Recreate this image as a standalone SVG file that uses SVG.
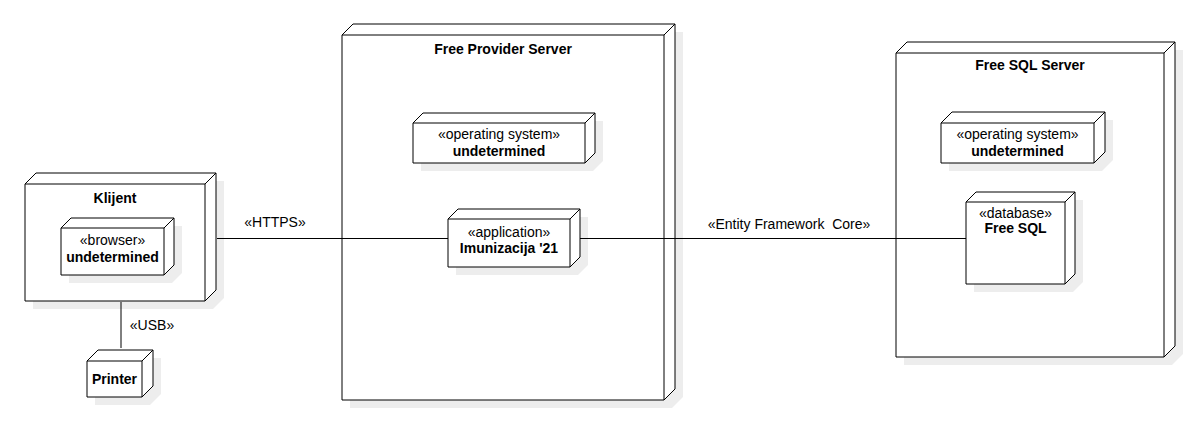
<svg xmlns="http://www.w3.org/2000/svg" width="1198" height="426" viewBox="0 0 1198 426">
<style>
.sh{fill:#ededed;stroke:none}
.bx{fill:#fff;stroke:#000;stroke-width:1}
.ed{fill:none;stroke:#000;stroke-width:1}
.cn{fill:none;stroke:#000;stroke-width:1}
text{font-family:"Liberation Sans",Arial,Helvetica,sans-serif;font-size:14px;fill:#000;text-anchor:middle}
.b{font-weight:bold}
</style>
<rect width="1198" height="426" fill="#fff"/>
<g id="klijent">
<path class="sh" d="M33,192 L44,181 L224,181 L224,298 L213,309 L33,309 Z"/>
<path class="bx" d="M25,184 L36,173 L216,173 L216,290 L205,301 L25,301 Z"/>
<path class="ed" d="M25,184 H205 L216,173 M205,184 V301"/>
<text class="b" x="115" y="203">Klijent</text>
</g>
<g id="browser">
<path class="sh" d="M69,236 L79,226 L182,226 L182,273 L172,283 L69,283 Z"/>
<path class="bx" d="M61,228 L71,218 L174,218 L174,265 L164,275 L61,275 Z"/>
<path class="ed" d="M61,228 H164 L174,218 M164,228 V275"/>
<text x="112.5" y="245">«browser»</text>
<text class="b" x="112.5" y="262">undetermined</text>
</g>
<g id="provider">
<path class="sh" d="M350,43 L361,32 L683,32 L683,397 L672,408 L350,408 Z"/>
<path class="bx" d="M342,35 L353,24 L675,24 L675,389 L664,400 L342,400 Z"/>
<path class="ed" d="M342,35 H664 L675,24 M664,35 V400"/>
<text class="b" x="503" y="54">Free Provider Server</text>
</g>
<g id="os1">
<path class="sh" d="M421,131 L431,121 L603,121 L603,161 L593,171 L421,171 Z"/>
<path class="bx" d="M413,123 L423,113 L595,113 L595,153 L585,163 L413,163 Z"/>
<path class="ed" d="M413,123 H585 L595,113 M585,123 V163"/>
<text x="499" y="139">«operating system»</text>
<text class="b" x="499" y="156">undetermined</text>
</g>
<g id="app">
<path class="sh" d="M456,227 L466,217 L588,217 L588,265 L578,275 L456,275 Z"/>
<path class="bx" d="M448,219 L458,209 L580,209 L580,257 L570,267 L448,267 Z"/>
<path class="ed" d="M448,219 H570 L580,209 M570,219 V267"/>
<text x="509" y="237">«application»</text>
<text class="b" x="509" y="253">Imunizacija '21</text>
</g>
<g id="sqlserver">
<path class="sh" d="M904,61 L915,50 L1183,50 L1183,354 L1172,365 L904,365 Z"/>
<path class="bx" d="M896,53 L907,42 L1175,42 L1175,346 L1164,357 L896,357 Z"/>
<path class="ed" d="M896,53 H1164 L1175,42 M1164,53 V357"/>
<text class="b" x="1030" y="70">Free SQL Server</text>
</g>
<g id="os2">
<path class="sh" d="M949,131 L960,120 L1113,120 L1113,160 L1102,171 L949,171 Z"/>
<path class="bx" d="M941,123 L952,112 L1105,112 L1105,152 L1094,163 L941,163 Z"/>
<path class="ed" d="M941,123 H1094 L1105,112 M1094,123 V163"/>
<text x="1017.5" y="139">«operating system»</text>
<text class="b" x="1017.5" y="156">undetermined</text>
</g>
<g id="db">
<path class="sh" d="M974,210 L984,200 L1083,200 L1083,282 L1073,292 L974,292 Z"/>
<path class="bx" d="M966,202 L976,192 L1075,192 L1075,274 L1065,284 L966,284 Z"/>
<path class="ed" d="M966,202 H1065 L1075,192 M1065,202 V284"/>
<text x="1015.5" y="218">«database»</text>
<text class="b" x="1015.5" y="233">Free SQL</text>
</g>
<g id="printer">
<path class="sh" d="M95,369 L106,358 L161,358 L161,394 L150,405 L95,405 Z"/>
<path class="bx" d="M87,361 L98,350 L153,350 L153,386 L142,397 L87,397 Z"/>
<path class="ed" d="M87,361 H142 L153,350 M142,361 V397"/>
<text class="b" x="114.5" y="384">Printer</text>
</g>
<g id="connectors">
<path class="cn" d="M217,238.5 H448"/>
<path class="cn" d="M580,238.5 H966"/>
<path class="cn" d="M121,302 V348"/>
<text x="275" y="227">«HTTPS»</text>
<text x="789" y="229" xml:space="preserve" style="white-space:pre">«Entity Framework  Core»</text>
<text x="152" y="330">«USB»</text>
</g>
</svg>
